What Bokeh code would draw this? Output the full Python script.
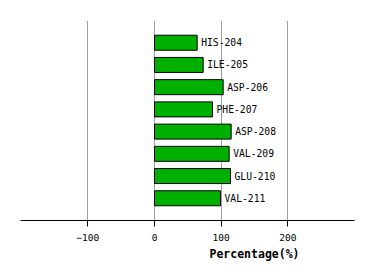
from bokeh.plotting import figure
from bokeh.models import ColumnDataSource, Range1d, FixedTicker, Title
from bokeh.core.properties import value
from bokeh.embed import file_html
from bokeh.resources import INLINE

residues = ["HIS-204", "ILE-205", "ASP-206", "PHE-207", "ASP-208", "VAL-209", "GLU-210", "VAL-211"]
percentages = [64, 73, 103, 87, 115, 112, 114, 99]
x_ticks = [-100, 0, 100, 200]

n = len(residues)
ypos = list(range(n, 0, -1))
src = ColumnDataSource(dict(y=ypos, v=percentages, lab=residues))

p = figure(width=374, height=280, output_backend="svg", toolbar_location=None,
           x_range=Range1d(-201, 300), y_range=Range1d(0, n + 1),
           min_border_left=20, min_border_right=20, min_border_top=20, min_border_bottom=60)
p.outline_line_color = None
p.background_fill_color = "white"
p.border_fill_color = "white"

p.hbar(y="y", left=0, right="v", height=0.675, source=src,
       fill_color="#00b000", line_color="black", line_width=1)
p.text(x="v", y="y", text="lab", source=src, x_offset=4,
       text_baseline="middle", text_align="left",
       text_font=value("DejaVu Sans Mono"), text_font_size="9.7px", text_color="black")

p.yaxis.visible = False
p.ygrid.visible = False
ax = p.xaxis[0]
ax.ticker = FixedTicker(ticks=x_ticks)
ax.minor_tick_line_color = None
ax.major_tick_out = 6
ax.major_tick_in = 0
ax.major_label_standoff = 7
ax.major_label_text_font = "DejaVu Sans Mono"
ax.major_label_text_font_size = "9.5px"
ax.major_label_text_color = "black"
ax.axis_line_color = "black"
ax.major_tick_line_color = "black"
p.xgrid.grid_line_color = "#a0a0a0"
p.xgrid.ticker = FixedTicker(ticks=x_ticks)

t = Title(text="Percentage(%)", align="left", offset=189,
          text_font="DejaVu Sans Mono", text_font_size="11.5px",
          text_font_style="bold", text_color="black", standoff=2)
p.add_layout(t, "below")

open("out.html", "w").write(file_html(p, INLINE))
